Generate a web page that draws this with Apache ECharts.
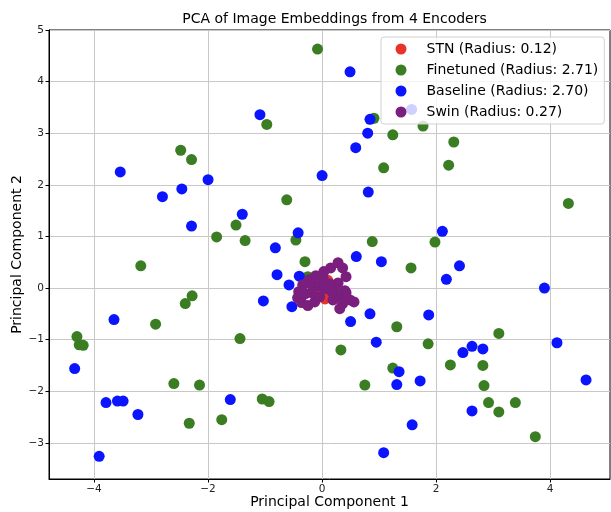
<!DOCTYPE html>
<html><head><meta charset="utf-8">
<script src="https://cdn.jsdelivr.net/npm/echarts@6/dist/echarts.min.js"></script>
<style>html,body{margin:0;padding:0;background:#fff}#c{width:611px;height:512px}</style>
</head><body><div id="c"></div>
<script>
const titleText = 'PCA of Image Embeddings from 4 Encoders';
const xName = 'Principal Component 1';
const yName = 'Principal Component 2';
const seriesNames = ['STN (Radius: 0.12)', 'Finetuned (Radius: 2.71)', 'Baseline (Radius: 2.70)', 'Swin (Radius: 0.27)'];
const seriesColors = ['#e8332a', '#3a7d22', '#0a14ff', '#7a1f7d'];
const xTicks = [-4, -2, 0, 2, 4];
const yTicks = [-3, -2, -1, 0, 1, 2, 3, 4, 5];

const stnPoints = [
  [0.10, 0.15], [0.26, -0.07], [0.05, -0.21], [0.05, -0.16], [0.0, 0.05],
  [-0.08, -0.03], [0.12, 0.0]
];

const finetunedPoints = [
  [-0.08, 4.63], [-0.97, 3.17], [-2.48, 2.67], [-2.29, 2.49], [-0.62, 1.71],
  [-1.51, 1.22], [-1.85, 0.99], [-1.35, 0.92], [-0.46, 0.93], [0.91, 3.29],
  [1.77, 3.14], [1.24, 2.97], [2.31, 2.83], [1.08, 2.33], [2.22, 2.38],
  [4.32, 1.64], [0.88, 0.90], [1.98, 0.89], [-0.30, 0.51], [-0.25, 0.22],
  [-3.18, 0.43], [-2.28, -0.15], [-2.40, -0.30], [-2.92, -0.70], [-4.30, -0.94],
  [-4.26, -1.10], [-4.19, -1.11], [-1.44, -0.98], [-2.60, -1.85], [-2.15, -1.88],
  [-1.05, -2.15], [-0.93, -2.20], [-2.33, -2.62], [-1.76, -2.55], [1.56, 0.39],
  [1.31, -0.75], [3.10, -0.88], [1.86, -1.08], [0.33, -1.20], [2.25, -1.49],
  [2.82, -1.50], [1.24, -1.55], [0.75, -1.88], [2.84, -1.89], [2.92, -2.22],
  [3.10, -2.40], [3.39, -2.22], [3.74, -2.88], [0.30, -0.13]
];

const baselinePoints = [
  [-1.09, 3.36], [-3.54, 2.25], [-2.00, 2.10], [-2.46, 1.92], [-2.80, 1.77],
  [-1.40, 1.43], [-2.29, 1.20], [-0.42, 1.07], [-0.82, 0.78], [0.0, 2.18],
  [0.49, 4.19], [1.57, 3.46], [0.84, 3.27], [0.80, 3.00], [0.59, 2.72],
  [0.81, 1.86], [2.11, 1.10], [-0.79, 0.26], [-0.40, 0.23], [-0.58, 0.06],
  [-1.03, -0.25], [-0.53, -0.36], [-3.65, -0.61], [-4.34, -1.56], [-1.61, -2.16],
  [-3.79, -2.22], [-3.59, -2.19], [-3.49, -2.19], [-3.23, -2.45], [-3.91, -3.26],
  [0.60, 0.61], [1.04, 0.51], [2.41, 0.43], [2.18, 0.17], [3.90, 0.0],
  [0.84, -0.50], [0.50, -0.65], [1.87, -0.52], [0.95, -1.05], [2.63, -1.13],
  [2.82, -1.18], [2.47, -1.25], [4.12, -1.06], [1.35, -1.62], [4.63, -1.78],
  [1.31, -1.87], [1.72, -1.80], [2.63, -2.38], [1.58, -2.65], [1.08, -3.19]
];

const swinPoints = [
  [0.28, 0.49], [0.15, 0.39], [0.36, 0.39], [0.03, 0.32], [0.42, 0.22],
  [0.28, 0.10], [-0.11, 0.24], [-0.23, 0.16], [-0.34, 0.06], [-0.41, -0.07],
  [-0.43, -0.19], [-0.36, -0.28], [-0.25, -0.34], [-0.13, -0.27], [-0.04, -0.17],
  [-0.18, -0.09], [-0.29, -0.11], [-0.08, 0.04], [0.05, -0.01], [0.17, -0.07],
  [0.31, -0.17], [0.42, -0.09], [0.49, -0.23], [0.56, -0.27], [0.36, -0.30],
  [0.31, -0.40], [0.19, -0.23], [-0.20, 0.08], [0.02, 0.18], [0.22, 0.01],
  [0.40, -0.05], [0.14, 0.08]
];

const allData = [stnPoints, finetunedPoints, baselinePoints, swinPoints];
const fmt = v => String(v).replace('-', '\u2212');
const font = 'DejaVu Sans';

const chart = echarts.init(document.getElementById('c'), null, {renderer: 'canvas'});
chart.setOption({
  animation: false,
  backgroundColor: '#ffffff',
  title: {
    text: titleText, left: 329.5, top: 7, textAlign: 'center',
    textStyle: {fontFamily: font, fontSize: 14, fontWeight: 'normal', color: '#000'}
  },
  legend: {
    orient: 'vertical', left: 381, top: 37,
    padding: [5, 6, 5, 14.5], itemGap: 7,
    itemWidth: 41, itemHeight: 11, icon: 'circle',
    backgroundColor: 'rgba(255,255,255,0.8)',
    borderColor: '#d0d0d0', borderWidth: 1, borderRadius: 3,
    textStyle: {fontFamily: font, fontSize: 14, color: '#000', lineHeight: 14},
    data: seriesNames
  },
  grid: {
    left: 49, right: 1, top: 30, bottom: 33, containLabel: false, outerBoundsMode: 'none',
    show: true, borderColor: '#000', borderWidth: 1, backgroundColor: 'transparent'
  },
  xAxis: {
    type: 'value', min: -4.79, max: 5.05,
    name: xName, nameLocation: 'middle', nameGap: 16, nameMoveOverlap: false,
    nameTextStyle: {fontFamily: font, fontSize: 14, color: '#000'},
    axisLine: {show: true, onZero: false, lineStyle: {color: '#000', width: 1}},
    axisTick: {show: true, inside: false, length: 3.5, lineStyle: {color: '#000'}, customValues: xTicks},
    axisLabel: {fontFamily: font, fontSize: 10.5, color: '#222', margin: 5, formatter: fmt, customValues: xTicks},
    splitLine: {show: true, lineStyle: {color: '#c8c8c8', width: 1}}
  },
  yAxis: {
    type: 'value', min: -3.70, max: 5.0,
    name: yName, nameLocation: 'middle', nameGap: 25, nameRotate: 90, nameMoveOverlap: false,
    nameTextStyle: {fontFamily: font, fontSize: 14, color: '#000'},
    axisLine: {show: true, onZero: false, lineStyle: {color: '#000', width: 1}},
    axisTick: {show: true, inside: false, length: 3.5, lineStyle: {color: '#000'}, customValues: yTicks},
    axisLabel: {fontFamily: font, fontSize: 10.5, color: '#222', margin: 5, formatter: fmt, customValues: yTicks},
    splitLine: {show: true, lineStyle: {color: '#c8c8c8', width: 1}}
  },
  series: seriesNames.map((name, i) => ({
    name: name, type: 'scatter', data: allData[i],
    symbol: 'circle', symbolSize: 11,
    itemStyle: {color: seriesColors[i], opacity: 1},
    emphasis: {disabled: true},
    z: 2 + i * 0.01
  }))
});
</script>
</body></html>
